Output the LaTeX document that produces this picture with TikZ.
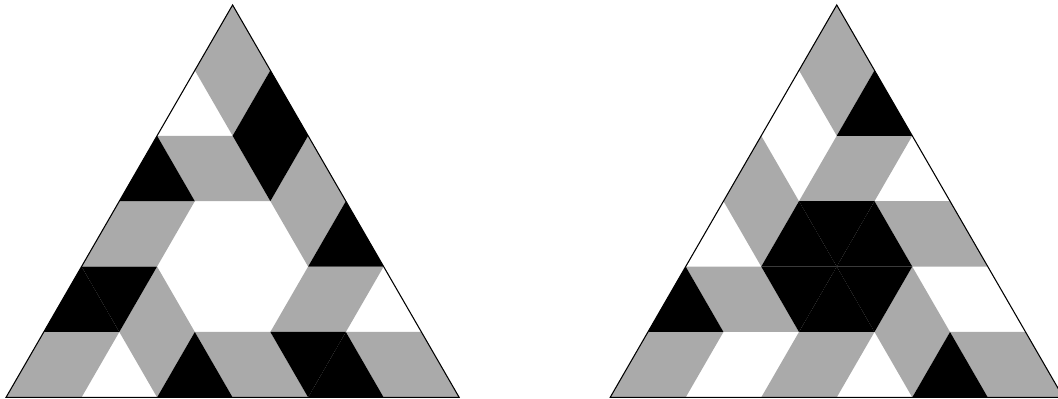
\documentclass[tikz,border=0pt]{standalone}
\usepackage{tikz}

\definecolor{tilegray}{gray}{0.667}
\newcommand{\uptri}[2]{(#1,#2) -- ++(1,0) -- ++(-1,1) -- cycle}
\newcommand{\dntri}[2]{(#1+1,#2) -- ++(0,1) -- ++(-1,0) -- cycle}

\begin{document}
\begin{tikzpicture}[x={(1cm,0cm)},y={(0.5cm,0.866cm)}]
    \useasboundingbox (-0.08cm,-0.01cm) rectangle (13.93cm,5.262cm);

    % Left tiling
    \foreach \a/\b/\c/\d in {0/5/0/4, 1/3/0/3, 2/3/2/2, 0/2/0/2, 1/1/1/0, 3/1/3/1, 0/0/0/0, 3/0/2/0, 5/0/4/0} {
        \fill[tilegray] \uptri{\a}{\b} \dntri{\c}{\d};
    }
    \foreach \i/\j in {1/4, 0/3, 3/2, 0/1, 2/0, 4/0} {
        \fill[black] \uptri{\i}{\j};
    }
    \foreach \i/\j in {1/3, 0/1, 3/0} {
        \fill[black] \dntri{\i}{\j};
    }
    \draw (0,0) -- (6,0) -- (0,6) -- cycle;

    % Right tiling
    \begin{scope}[xshift=8cm]
        \foreach \a/\b/\c/\d in {0/5/0/4, 0/3/0/2, 1/3/1/3, 3/2/2/2, 1/1/0/1, 3/1/3/0, 0/0/0/0, 2/0/2/0, 5/0/4/0} {
            \fill[tilegray] \uptri{\a}{\b} \dntri{\c}{\d};
        }
        \foreach \i/\j in {1/4, 1/2, 2/2, 2/1, 0/1, 4/0} {
            \fill[black] \uptri{\i}{\j};
        }
        \foreach \i/\j in {1/2, 1/1, 2/1} {
            \fill[black] \dntri{\i}{\j};
        }
        \draw (0,0) -- (6,0) -- (0,6) -- cycle;
    \end{scope}
\end{tikzpicture}
\end{document}
